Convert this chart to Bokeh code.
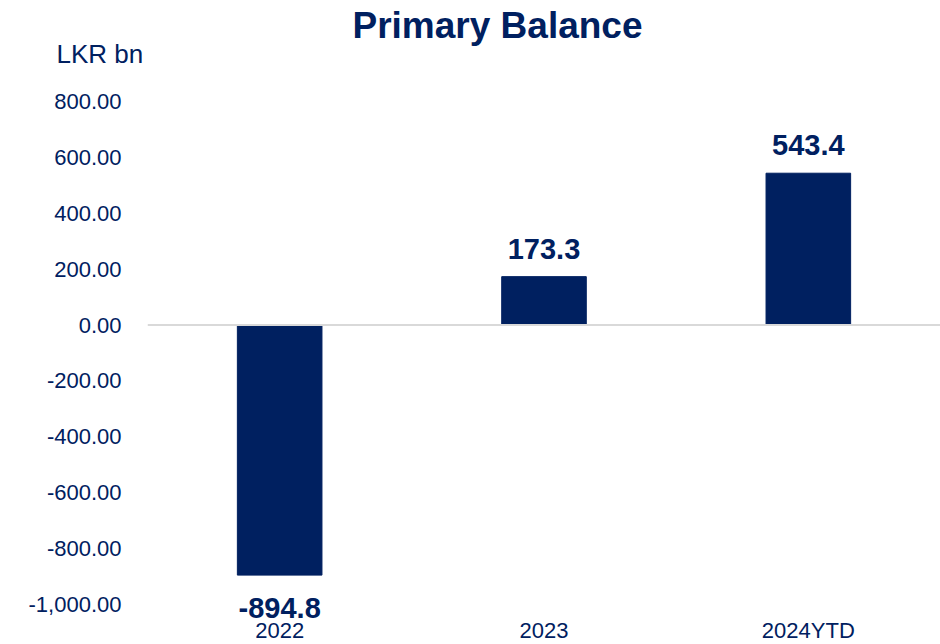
from bokeh.plotting import figure
from bokeh.models import (ColumnDataSource, FactorRange, Range1d, FixedTicker,
                          NumeralTickFormatter, Span, LabelSet, Title)
from bokeh.core.properties import value
from bokeh.embed import file_html
from bokeh.resources import INLINE

# Primary balance, LKR bn
years = ["2022", "2023", "2024YTD"]
balance = [-894.8, 173.3, 543.4]
y_ticks = [-1000, -800, -600, -400, -200, 0, 200, 400, 600, 800]

NAVY = "#002060"
FONT_NAME = "Liberation Sans"
FONT = value(FONT_NAME)

labels = [f"{v:.1f}" for v in balance]
# value label above positive bars and below negative ones
label_offset = [18 if v >= 0 else -43 for v in balance]

src = ColumnDataSource(dict(year=years, value=balance, label=labels, off=label_offset,
                            base=[y_ticks[0]] * len(years)))

# the plotting area runs down to the canvas bottom so that the labels under
# the lowest tick are not clipped; ticks run from -1,000 to 800
p = figure(width=940, height=644, x_range=FactorRange(*years, range_padding=0),
           y_range=Range1d(-1143.1, 800), output_backend="svg", toolbar_location=None,
           x_axis_location=None, title=None,
           min_border_left=147, min_border_right=0, min_border_top=101,
           min_border_bottom=0)
p.outline_line_color = None
p.grid.grid_line_color = None
p.background_fill_color = "white"
p.border_fill_color = "white"

p.vbar(x="year", top="value", bottom=0, width=0.32, color=NAVY, source=src)

p.add_layout(Span(location=0, dimension="width", line_color="#D9D9D9", line_width=2))

p.add_layout(LabelSet(x="year", y="value", text="label", y_offset="off", source=src,
                      text_align="center", text_baseline="alphabetic",
                      text_font=FONT, text_font_size="29px", text_font_style="bold",
                      text_color=NAVY))

# category names under the lowest tick
p.add_layout(LabelSet(x="year", y="base", text="year", y_offset=-33, source=src,
                      text_align="center", text_baseline="alphabetic",
                      text_font=FONT, text_font_size="22px", text_color=NAVY))

p.yaxis.ticker = FixedTicker(ticks=y_ticks)
p.yaxis.formatter = NumeralTickFormatter(format="0,0.00")
p.yaxis.axis_line_color = None
p.yaxis.major_tick_line_color = None
p.yaxis.minor_tick_line_color = None
p.yaxis.major_label_text_font = FONT_NAME
p.yaxis.major_label_text_font_size = "22px"
p.yaxis.major_label_text_color = NAVY
p.yaxis.major_label_standoff = 20

# unit label sits next to the frame, the chart title above it
p.add_layout(Title(text="LKR bn", align="left", offset=-91, standoff=65,
                   text_font=FONT_NAME, text_font_size="26px",
                   text_font_style="normal", text_color=NAVY), "above")
p.add_layout(Title(text="Primary Balance", align="left", offset=205, standoff=-82,
                   text_font=FONT_NAME, text_font_size="37px",
                   text_font_style="bold", text_color=NAVY), "above")

open("out.html", "w").write(file_html(p, INLINE))
